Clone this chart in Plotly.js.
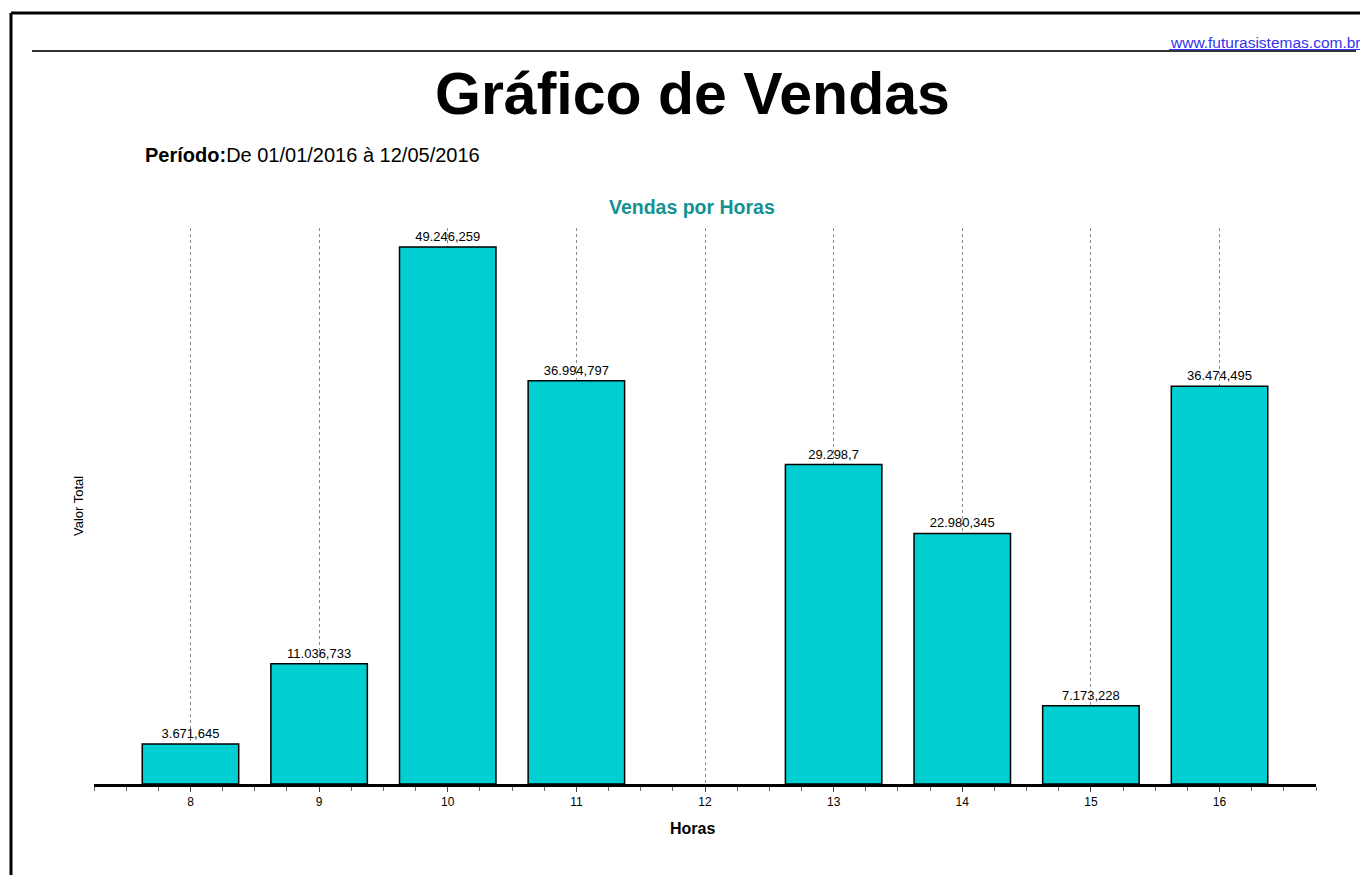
<!DOCTYPE html>
<html>
<head>
<meta charset="utf-8">
<script src="https://cdn.plot.ly/plotly-3.0.1.min.js"></script>
<style>
  html, body { margin: 0; padding: 0; background: #fff; }
  #chart { width: 1360px; height: 875px; }
</style>
</head>
<body>
<div id="chart"></div>
<script>
// ---- data ----
const hours = [8, 9, 10, 11, 13, 14, 15, 16];
const values = [3671.645, 11036.733, 49246.259, 36994.797, 29298.7, 22980.345, 7173.228, 36474.495];
const tickHours = [8, 9, 10, 11, 12, 13, 14, 15, 16];
const mainTitle = 'Gráfico de Vendas';
const periodLabel = 'Período:';
const periodText = 'De 01/01/2016 à 12/05/2016';
const chartTitle = 'Vendas por Horas';
const xTitle = 'Horas';
const yTitle = 'Valor Total';
const siteUrl = 'www.futurasistemas.com.br';

// pt-BR number formatting: "." thousands, "," decimals
function fmtBR(v) {
  const s = String(v);
  const parts = s.split('.');
  const intPart = parts[0].replace(/\B(?=(\d{3})+(?!\d))/g, '.');
  return parts.length > 1 ? intPart + ',' + parts[1] : intPart;
}

// ---- layout geometry ----
const W = 1360, H = 875;
const M = { l: 94, r: 44, t: 228, b: 91 };
const PW = W - M.l - M.r, PH = H - M.t - M.b;
const X = px => (px - M.l) / PW;
const Y = py => (H - M.b - py) / PH;

const FONT = 'Arial, "Liberation Sans", Helvetica, sans-serif';

const trace = {
  type: 'bar',
  x: hours,
  y: values,
  width: 0.75,
  marker: { color: '#00CED1', line: { color: '#000', width: 1.5 } },
  text: values.map(fmtBR),
  textposition: 'outside',
  cliponaxis: false,
  textfont: { family: FONT, size: 13, color: '#000' },
  hoverinfo: 'x+y'
};

const layout = {
  width: W, height: H,
  margin: M,
  paper_bgcolor: '#fff',
  plot_bgcolor: '#fff',
  showlegend: false,
  font: { family: FONT, color: '#000' },
  xaxis: {
    range: [7.25, 16.75],
    tickvals: tickHours,
    ticktext: tickHours.map(String),
    showgrid: true,
    gridcolor: '#8a8a8a',
    gridwidth: 1,
    griddash: '3px,3px',
    zeroline: false,
    showline: true,
    linecolor: '#000',
    linewidth: 3,
    ticks: 'outside',
    ticklen: 5,
    tickwidth: 1,
    tickcolor: '#444',
    tickfont: { family: FONT, size: 12, color: '#000' },
    minor: { dtick: 0.25, tick0: 0, ticks: 'outside', ticklen: 4, tickwidth: 1, tickcolor: '#666', showgrid: false },
    fixedrange: true
  },
  yaxis: {
    range: [0, 51000],
    showgrid: false,
    zeroline: false,
    showline: false,
    showticklabels: false,
    ticks: '',
    fixedrange: true
  },
  annotations: [
    { text: '<b>' + mainTitle + '</b>', xref: 'paper', yref: 'paper', x: X(692.5), y: Y(94),
      xanchor: 'center', yanchor: 'middle', showarrow: false,
      font: { family: FONT, size: 59, color: '#000' } },
    { text: '<b>' + periodLabel + '</b>' + periodText, xref: 'paper', yref: 'paper', x: X(143), y: Y(155),
      xanchor: 'left', yanchor: 'middle', showarrow: false,
      font: { family: FONT, size: 20, color: '#000' } },
    { text: siteUrl, xref: 'paper', yref: 'paper', x: X(1168), y: Y(42),
      xanchor: 'left', yanchor: 'middle', showarrow: false,
      font: { family: FONT, size: 15.5, color: '#3333EE' } },
    { text: '<b>' + chartTitle + '</b>', xref: 'paper', yref: 'paper', x: X(692), y: Y(207),
      xanchor: 'center', yanchor: 'middle', showarrow: false,
      font: { family: FONT, size: 19.5, color: '#149191' } },
    { text: '<b>' + xTitle + '</b>', xref: 'paper', yref: 'paper', x: X(692), y: Y(828),
      xanchor: 'center', yanchor: 'middle', showarrow: false,
      font: { family: FONT, size: 16, color: '#000' } },
    { text: yTitle, xref: 'paper', yref: 'paper', x: X(78), y: Y(506), textangle: -90,
      xanchor: 'center', yanchor: 'middle', showarrow: false,
      font: { family: FONT, size: 13, color: '#000' } }
  ],
  shapes: [
    // page border (top and left)
    { type: 'line', xref: 'paper', yref: 'paper', x0: X(11), x1: X(1375), y0: Y(13), y1: Y(13),
      line: { color: '#000', width: 3 } },
    { type: 'line', xref: 'paper', yref: 'paper', x0: X(11), x1: X(11), y0: Y(13), y1: Y(890),
      line: { color: '#000', width: 3 } },
    // header rule
    { type: 'line', xref: 'paper', yref: 'paper', x0: X(32), x1: X(1356), y0: Y(51), y1: Y(51),
      line: { color: '#333', width: 2 } },
    // url underline
    { type: 'line', xref: 'paper', yref: 'paper', x0: X(1169), x1: X(1362), y0: Y(49.5), y1: Y(49.5),
      line: { color: '#3333EE', width: 1 } }
  ]
};

Plotly.newPlot('chart', [trace], layout, { displayModeBar: false, staticPlot: true });
</script>
</body>
</html>
